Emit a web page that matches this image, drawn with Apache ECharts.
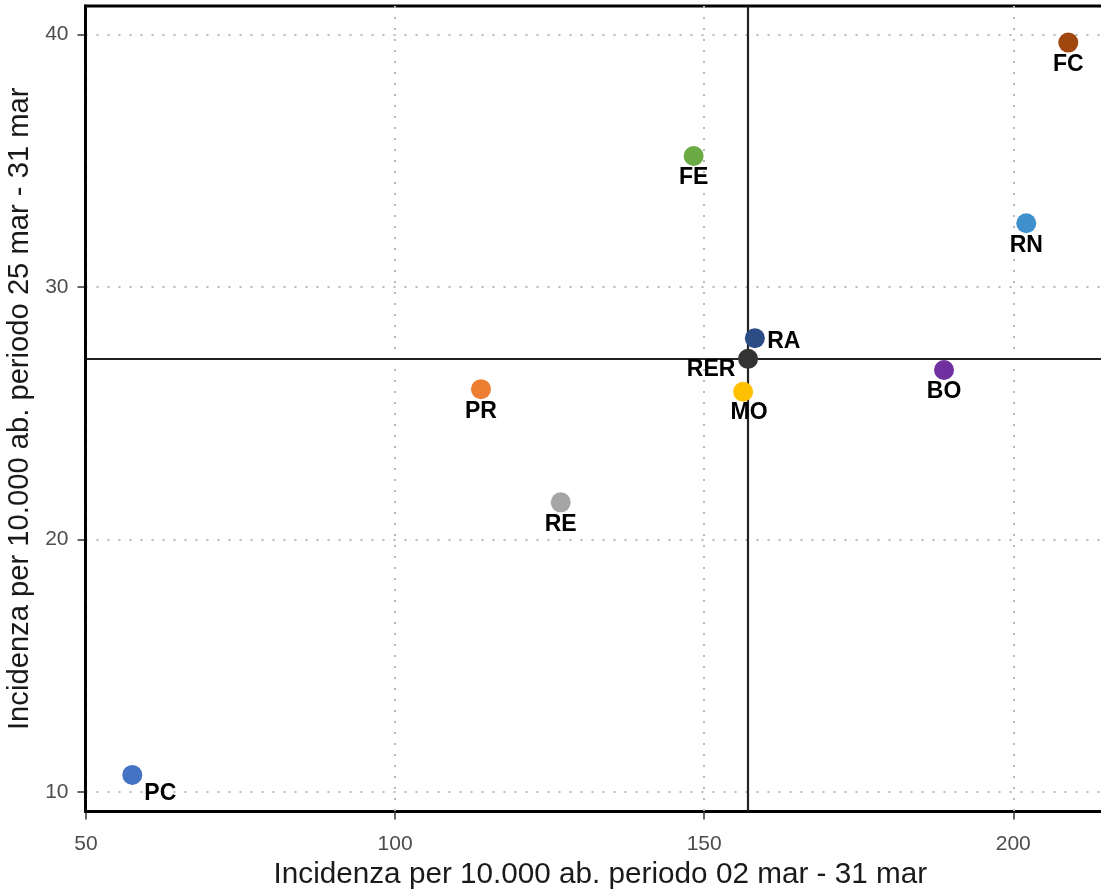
<!DOCTYPE html>
<html>
<head>
<meta charset="utf-8">
<script src="https://cdn.jsdelivr.net/npm/echarts@6/dist/echarts.min.js"></script>
<style>
html,body{margin:0;padding:0;background:#fff;}
#chart{width:1101px;height:889px;}
</style>
</head>
<body>
<div id="chart"></div>
<script>
// Data
const regions = ['PC','PR','RE','FE','BO','RN','FC','MO','RA','RER'];
const incidenzaMar = [57.5, 113.9, 126.8, 148.3, 188.8, 202.1, 208.9, 156.3, 158.2, 157.1];
const incidenzaWeek = [10.68, 25.95, 21.47, 35.18, 26.71, 32.52, 39.67, 25.85, 27.97, 27.15];
const xTicks = [50, 100, 150, 200];
const yTicks = [10, 20, 30, 40];
const referenceRegion = 'RER';

// Styles
const colors = {
  PC:'#4472C4', PR:'#ED7D31', RE:'#A5A5A5', FE:'#6BAA45', BO:'#7030A0',
  RN:'#4190CE', FC:'#A0470F', MO:'#FFC000', RA:'#2B4C84', RER:'#333333'
};
const labelOffsets = {
  PC:[28,19], PR:[0,22], RE:[0,22], FE:[0,22], BO:[0,22],
  RN:[0,22], FC:[0,22], MO:[6,21], RA:[29,4], RER:[-37,11]
};

const refIdx = regions.indexOf(referenceRegion);
const refX = incidenzaMar[refIdx];
const refY = incidenzaWeek[refIdx];

// ggplot-like 5% expansion of the data range
function expand(arr){
  const mn = Math.min(...arr), mx = Math.max(...arr), d = (mx - mn) * 0.05;
  return [mn - d, mx + d];
}
const xr = expand(incidenzaMar);
const yr = expand(incidenzaWeek);

const font = 'Liberation Sans, Arial, Helvetica, sans-serif';

const data = regions.map((r, i) => ({
  name: r,
  value: [incidenzaMar[i], incidenzaWeek[i]],
  itemStyle: { color: colors[r], opacity: 1 },
  label: { offset: labelOffsets[r] }
}));

const chart = echarts.init(document.getElementById('chart'), null, {renderer:'canvas'});
chart.setOption({
  animation: false,
  backgroundColor: '#ffffff',
  grid: {
    left: 85.5, top: 6, width: 1029.6, height: 805.5,
    outerBoundsMode: 'none',
    show: true, borderColor: '#000000', borderWidth: 2.8,
    backgroundColor: '#ffffff', containLabel: false
  },
  xAxis: {
    type: 'value', min: xr[0], max: xr[1],
    name: 'Incidenza per 10.000 ab. periodo 02 mar - 31 mar',
    nameLocation: 'middle', nameGap: 46,
    nameTextStyle: { fontFamily: font, fontSize: 29.7, color: '#1a1a1a' },
    axisLine: { show: false },
    axisTick: { show: true, customValues: xTicks, length: 8, lineStyle: { color: '#333', width: 1.5 } },
    axisLabel: { customValues: xTicks, margin: 22, fontFamily: font, fontSize: 21, color: '#4d4d4d' },
    splitLine: { show: true, lineStyle: { color: '#b8b8b8', width: 2, type: [2, 9] } }
  },
  yAxis: [{
    type: 'value', min: yr[0], max: yr[1],
    name: 'Incidenza per 10.000 ab. periodo 25 mar - 31 mar',
    nameLocation: 'middle', nameGap: 43, nameRotate: 90,
    nameTextStyle: { fontFamily: font, fontSize: 29.2, color: '#1a1a1a' },
    axisLine: { show: false },
    axisTick: { show: true, customValues: yTicks, length: 8, lineStyle: { color: '#333', width: 1.5 } },
    axisLabel: { customValues: yTicks, margin: 17, fontFamily: font, fontSize: 21, color: '#4d4d4d' },
    splitLine: { show: true, lineStyle: { color: '#b8b8b8', width: 2, type: [2, 9] } }
  }, {
    // overlay axis that redraws the solid left panel border above the grid lines
    type: 'value', min: yr[0], max: yr[1], position: 'left', z: 10,
    axisLine: { show: true, lineStyle: { color: '#000000', width: 2.8 } },
    axisTick: { show: false }, axisLabel: { show: false }, splitLine: { show: false }
  }],
  series: [{
    type: 'scatter',
    symbol: 'circle',
    symbolSize: 20,
    data: data,
    z: 3,
    itemStyle: { opacity: 1 },
    label: {
      show: true,
      position: 'inside',
      formatter: p => p.name,
      fontFamily: font, fontSize: 23, fontWeight: 'bold', color: '#000000', opacity: 1
    },
    emphasis: { disabled: true },
    markLine: {
      silent: true,
      symbol: 'none',
      z: 1,
      label: { show: false },
      lineStyle: { color: '#222222', width: 2.2, type: 'solid', opacity: 1 },
      data: [{ xAxis: refX }, { yAxis: refY }]
    }
  }]
});
</script>
</body>
</html>
